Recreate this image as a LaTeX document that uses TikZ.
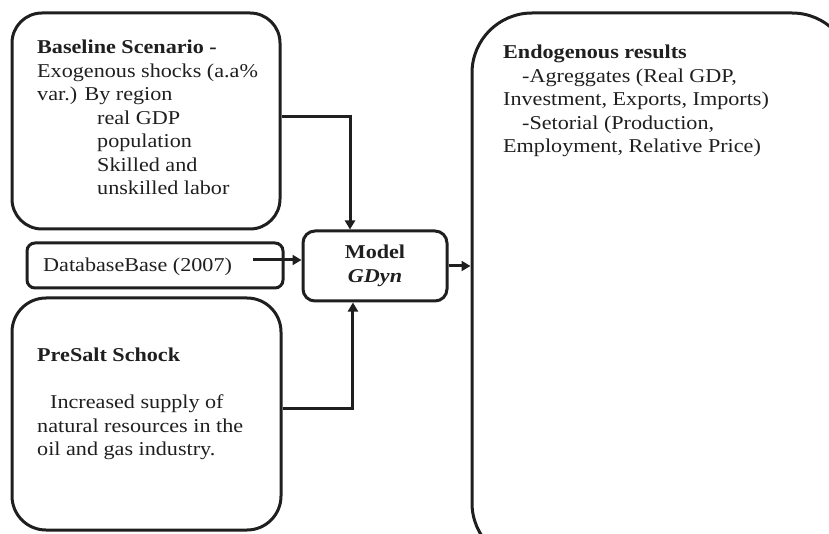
\documentclass[tikz,border=0pt]{standalone}
\usepackage{fontspec}
\setmainfont{Liberation Serif}[FakeStretch=1.13]
\usetikzlibrary{arrows.meta,calc,positioning}

\begin{document}
\begin{tikzpicture}[x=1pt,y=-1pt,
  roundbox/.style={draw=black!88,line width=3pt,rounded corners=#1},
  roundbox/.default=30pt,
  txt/.style={anchor=north west,inner sep=0pt,align=left,text=black!88,font=\fontsize{19.6}{23.5}\selectfont},
  arr/.style={draw=black!88,line width=3pt,-{Triangle[length=9pt,width=10pt]}}]
  \clip (0,0) rectangle (829,534);
  % Inputs on the left
  \node[roundbox=30pt,minimum width=268pt,minimum height=216pt] (base) at (146,121) {};
  \node[txt] (basetext) at (37,40) {\textbf{Baseline Scenario -}\\
    Exogenous shocks (a.a\%\\
    var.) By region\\
    \hspace*{60pt}real GDP\\
    \hspace*{60pt}population\\
    \hspace*{60pt}Skilled and\\
    \hspace*{60pt}unskilled labor};
  \node[roundbox=8pt,minimum width=256pt,minimum height=45pt] (db) at (155,265.5) {};
  \node[txt,anchor=base west] (dbtext) at (43,272) {DatabaseBase (2007)};
  \node[roundbox=34pt,minimum width=269pt,minimum height=232pt] (presalt) at (146.5,414) {};
  \node[txt] (presalttext) at (37,348) {\textbf{PreSalt Schock}\\[23.5pt]
    \hspace*{13pt}Increased supply of\\
    natural resources in the\\
    oil and gas industry.};
  % Model and results
  \node[roundbox=12pt,minimum width=144pt,minimum height=70pt,align=center,text=black!88,
    font=\fontsize{19.6}{23.5}\selectfont\bfseries] (model) at (375,266) {Model\\\textit{GDyn}};
  \node[roundbox=60pt,minimum width=380pt,minimum height=550pt,overlay] (endo) at (662,288) {};
  \node[txt] (endotext) at (503,45) {\textbf{Endogenous results}\\
    \hspace*{19pt}-Agreggates (Real GDP,\\
    Investment, Exports, Imports)\\
    \hspace*{19pt}-Setorial (Production,\\
    Employment, Relative Price)};
  % Connectors
  \coordinate (dbout) at (253,260);
  \draw[arr] ([yshift=4pt]base.east) -| ($(model.north west)!0.33!(model.north east)$);
  \draw[arr] (dbout) -- (dbout -| model.west);
  \draw[arr] ([yshift=6pt]presalt.east) -| ($(model.south west)!0.35!(model.south east)$);
  \draw[arr] (model.east) -- (model.east -| endo.west);
\end{tikzpicture}
\end{document}
